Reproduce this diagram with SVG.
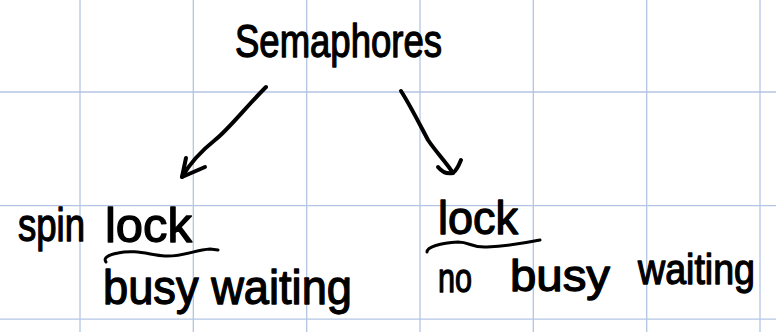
<svg xmlns="http://www.w3.org/2000/svg" width="776" height="332" viewBox="0 0 776 332">
  <style>
    .grid line { stroke: #b3c5e3; stroke-width: 1.3; }
    .hand { font-family: "Liberation Sans", "DejaVu Sans", sans-serif; fill: #000; stroke: #000; stroke-width: 1.3; stroke-linejoin: round; }
    .ink { fill: none; stroke: #000; stroke-width: 4; stroke-linecap: round; stroke-linejoin: round; }
    .thin { stroke-width: 3; }
  </style>
  <rect width="776" height="332" fill="#ffffff"/>
  <g class="grid">
    <line x1="80" y1="0" x2="80" y2="332"/>
    <line x1="193.3" y1="0" x2="193.3" y2="332"/>
    <line x1="306.7" y1="0" x2="306.7" y2="332"/>
    <line x1="420" y1="0" x2="420" y2="332"/>
    <line x1="533.3" y1="0" x2="533.3" y2="332"/>
    <line x1="646.7" y1="0" x2="646.7" y2="332"/>
    <line x1="760" y1="0" x2="760" y2="332"/>
    <line x1="0" y1="92" x2="776" y2="92"/>
    <line x1="0" y1="205.6" x2="776" y2="205.6"/>
    <line x1="0" y1="319.2" x2="776" y2="319.2"/>
  </g>

  <g id="node-semaphores">
    <text class="hand" x="235" y="57" font-size="46" textLength="207" lengthAdjust="spacingAndGlyphs">Semaphores</text>
  </g>

  <g id="node-spin-lock">
    <text class="hand" x="18" y="241" font-size="46" textLength="67" lengthAdjust="spacingAndGlyphs">spin</text>
    <text class="hand" x="105" y="242" font-size="48" textLength="87" lengthAdjust="spacingAndGlyphs">lock</text>
    <path class="ink thin" d="M106,262 C103,258 108,255 118,253 C135,249 150,255 165,256 C182,257 195,250 210,249 L218,250"/>
    <text class="hand" x="103" y="304" font-size="48" textLength="249" lengthAdjust="spacingAndGlyphs">busy waiting</text>
  </g>

  <g id="node-lock">
    <text class="hand" x="438" y="234" font-size="46" textLength="80" lengthAdjust="spacingAndGlyphs">lock</text>
    <path class="ink thin" d="M427,252 C427,247 440,243 458,242 C470,242 472,248 487,247 C505,246 525,243 540,240"/>
    <text class="hand" x="438" y="292" font-size="40" textLength="34" lengthAdjust="spacingAndGlyphs">no</text>
    <text class="hand" x="510" y="291" font-size="44" textLength="100" lengthAdjust="spacingAndGlyphs">busy</text>
    <text class="hand" x="638" y="284" font-size="42" textLength="117" lengthAdjust="spacingAndGlyphs">waiting</text>
  </g>

  <g id="connectors">
    <path class="ink" d="M266,87 C245,108 228,130 215,140 C200,152 190,163 182,177"/>
    <path class="ink" d="M186,158 L182,177 L205,167"/>
    <path class="ink" d="M401,91 C410,105 420,125 428,140 C436,152 446,162 453,173"/>
    <path class="ink" d="M438,167 C442,172 448,174 453,173 C457,170 459,165 461,160"/>
  </g>
</svg>
